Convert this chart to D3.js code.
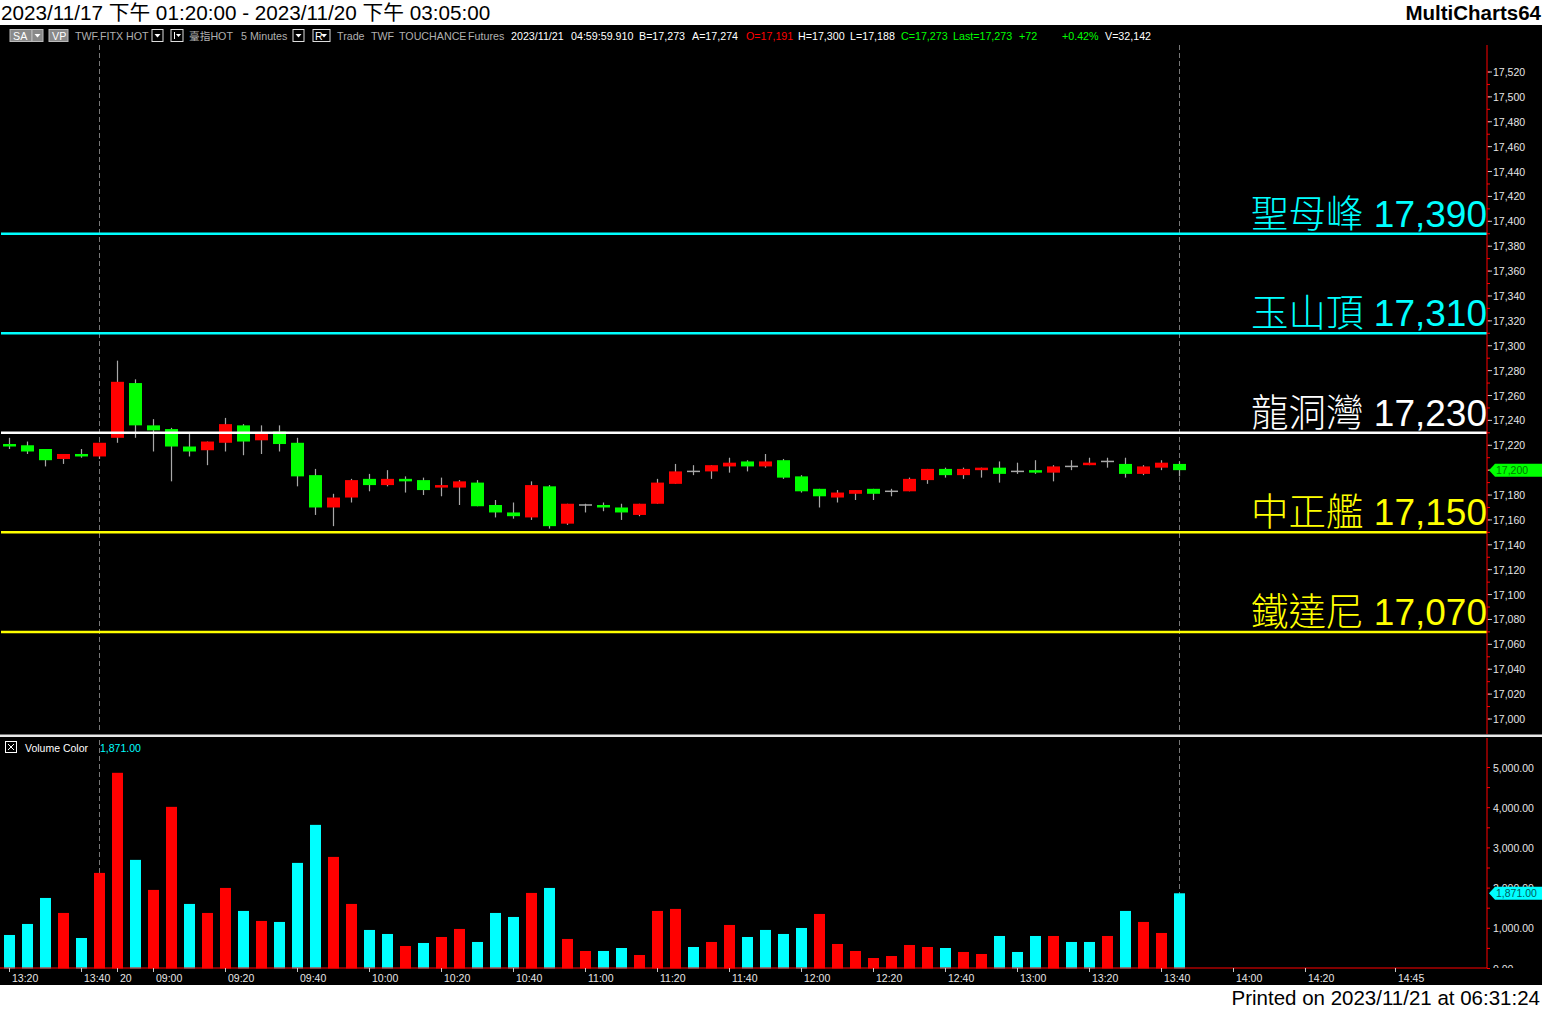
<!DOCTYPE html>
<html><head><meta charset="utf-8">
<script src="https://cdn.jsdelivr.net/npm/d3@7"></script>
<style>
html,body{margin:0;padding:0;background:#fff;}
svg{display:block;}
text{font-family:"Liberation Sans",Arial,"Noto Sans CJK TC",sans-serif;}
</style></head>
<body><div id="chart"></div>
<script>
// ---------------- data ----------------
const opens  = [17221,17220,17217,17209,17213,17211,17226,17270,17236,17233,17219,17216,17222,17236,17224,17231,17222,17196,17170,17178,17193,17188,17193,17192,17186,17186,17190,17172,17166,17162,17187,17157,17172,17172,17170,17164,17173,17189,17199,17199,17203,17207,17203,17208,17195,17185,17178,17181,17185,17183,17183,17192,17201,17196,17200,17202,17199,17200,17198,17203,17204,17207,17205,17197,17202,17205];
const highs  = [17226,17223,17217,17213,17217,17222,17288,17273,17241,17234,17229,17223,17242,17237,17236,17236,17226,17201,17181,17193,17197,17200,17195,17194,17194,17192,17192,17176,17174,17191,17188,17173,17173,17174,17173,17173,17193,17205,17204,17204,17210,17208,17213,17209,17196,17185,17184,17184,17185,17185,17194,17201,17202,17202,17202,17207,17206,17208,17204,17208,17210,17210,17210,17204,17208,17207];
const lows   = [17217,17213,17203,17205,17210,17209,17222,17226,17215,17191,17211,17204,17215,17212,17213,17215,17187,17164,17155,17174,17183,17187,17182,17180,17179,17172,17171,17162,17161,17160,17153,17156,17166,17167,17160,17163,17173,17189,17196,17193,17198,17199,17202,17193,17182,17170,17174,17176,17176,17179,17183,17189,17194,17193,17194,17190,17197,17197,17191,17200,17204,17202,17194,17196,17200,17195];
const closes = [17219,17215,17208,17213,17211,17222,17271,17236,17232,17219,17215,17223,17237,17223,17230,17221,17195,17170,17178,17192,17188,17193,17191,17184,17188,17191,17171,17166,17163,17188,17155,17173,17172,17170,17166,17173,17190,17199,17199,17204,17206,17203,17207,17194,17183,17179,17182,17184,17181,17183,17193,17201,17196,17201,17202,17197,17199,17198,17203,17203,17206,17207,17197,17203,17206,17200];
const volumes = [834,1108,1755,1382,759,2378,4868,2702,1955,4021,1606,1382,2004,1432,1183,1158,2627,3573,2776,1606,959,859,560,635,784,984,660,1382,1282,1880,2004,735,436,436,510,336,1432,1482,535,660,1083,784,959,859,1008,1357,610,436,261,311,585,535,510,411,361,809,411,809,809,660,660,809,1432,1158,884,1871];
const volUp = [0,0,0,1,0,1,1,0,1,1,0,1,1,0,1,0,0,0,1,1,0,0,1,0,1,1,0,0,0,1,0,1,1,0,0,1,1,1,0,1,1,0,0,0,0,1,1,1,1,1,1,1,0,1,1,0,0,0,1,0,0,1,0,1,1,0];
const timeTicks  = [0,4,6,8,12,16,20,24,28,32,36,40,44,48,52,56,60,64,68,72,77];
const timeLabels = ["13:20","13:40","20","09:00","09:20","09:40","10:00","10:20","10:40","11:00","11:20","11:40","12:00","12:20","12:40","13:00","13:20","13:40","14:00","14:20","14:45"];
const levelValues = [17390,17310,17230,17150,17070];
const levelNames  = ["聖母峰","玉山頂","龍洞灣","中正艦","鐵達尼"];
const levelColors = ["#00ffff","#00ffff","#ffffff","#ffff00","#ffff00"];
const priceTicks = d3.range(17000,17521,20);
const volTicks = [0,1000,2000,3000,4000,5000];
const dividerBars = [5,65];
const lastPrice = 17200, lastVolume = 1871;

// ---------------- layout ----------------
const W=1542,H=1009, axisX=1487;
const svg=d3.select("#chart").append("svg").attr("width",W).attr("height",H);
const fmt=d3.format(",");
const fmt2=d3.format(",.2f");

svg.append("rect").attr("width",W).attr("height",H).attr("fill","#fff");
svg.append("rect").attr("x",0).attr("y",25).attr("width",W).attr("height",960).attr("fill","#000");

// titles
svg.append("text").attr("x",1).attr("y",20).attr("font-size",20.7).attr("fill","#000")
  .text("2023/11/17 下午 01:20:00 - 2023/11/20 下午 03:05:00");
svg.append("text").attr("x",1541).attr("y",20).attr("text-anchor","end").attr("font-size",20.5).attr("font-weight","bold").attr("fill","#000")
  .text("MultiCharts64");
svg.append("text").attr("x",1540).attr("y",1005).attr("text-anchor","end").attr("font-size",20.5).attr("fill","#000")
  .text("Printed on 2023/11/21 at 06:31:24");

// scales
const x=d3.scaleLinear().domain([0,65]).range([9.5,1179.5]);
const y=d3.scaleLinear().domain([17000,17520]).range([719,72]);
const yv=d3.scaleLinear().domain([0,5000]).range([968.5,767.5]);

// header toolbar
const hdr=svg.append("g").attr("font-size",10.7);
function btn(x0,w,label){
  hdr.append("rect").attr("x",x0).attr("y",29.5).attr("width",w).attr("height",12).attr("fill","#8a8a8a").attr("stroke","#bbb").attr("stroke-width",1);
  hdr.append("text").attr("x",x0+3).attr("y",40).attr("fill","#fff").text(label);
}
btn(10,22,"SA");
hdr.append("rect").attr("x",32).attr("y",29.5).attr("width",11).attr("height",12).attr("fill","#8a8a8a").attr("stroke","#bbb");
hdr.append("path").attr("d","M34.5,34 L40.5,34 L37.5,37.5 Z").attr("fill","#fff");
btn(49,19,"VP");
function dd(x0,pre){
  hdr.append("rect").attr("x",x0).attr("y",29.5).attr("width",pre?17:11).attr("height",12).attr("fill","#000").attr("stroke","#ddd");
  const ax = pre? x0+11 : x0+5.5;
  if(pre) hdr.append("text").attr("x",x0+2).attr("y",40).attr("fill","#fff").text(pre);
  hdr.append("path").attr("d",`M${ax-3},34 L${ax+3},34 L${ax},37.5 Z`).attr("fill","#fff");
}
const hitems=[
  [75,"TWF.FITX HOT","#b0b0b0"],[189,"臺指HOT","#b0b0b0"],[241,"5 Minutes","#b0b0b0"],
  [337,"Trade","#b0b0b0"],[371,"TWF","#b0b0b0"],[399,"TOUCHANCE","#b0b0b0"],[468,"Futures","#b0b0b0"],
  [511,"2023/11/21","#fff"],[571,"04:59:59.910","#fff"],[639,"B=17,273","#fff"],[692,"A=17,274","#fff"],
  [746,"O=17,191","#ff0000"],[798,"H=17,300","#fff"],[850,"L=17,188","#fff"],[901,"C=17,273","#00ff00"],
  [953,"Last=17,273","#00ff00"],[1019,"+72","#00ff00"],[1062,"+0.42%","#00ff00"],[1105,"V=32,142","#fff"]];
hitems.forEach(d=>hdr.append("text").attr("x",d[0]).attr("y",40).attr("fill",d[2]).text(d[1]));
dd(152);
hdr.append("rect").attr("x",171).attr("y",29.5).attr("width",12).attr("height",12).attr("fill","#000").attr("stroke","#ddd");
hdr.append("line").attr("x1",174.5).attr("x2",174.5).attr("y1",32).attr("y2",39).attr("stroke","#fff");
hdr.append("path").attr("d","M176,34 L181,34 L178.5,37 Z").attr("fill","#fff");
dd(293); dd(313,"R");

// pane separator
svg.append("rect").attr("x",0).attr("y",734.5).attr("width",W).attr("height",2.5).attr("fill","#e8e8e8");

// dashed dividers
dividerBars.forEach(b=>{
  svg.append("line").attr("x1",x(b)).attr("x2",x(b)).attr("y1",45).attr("y2",733)
    .attr("stroke","#777").attr("stroke-dasharray","5,3");
  svg.append("line").attr("x1",x(b)).attr("x2",x(b)).attr("y1",740).attr("y2",967)
    .attr("stroke","#777").attr("stroke-dasharray","5,3");
});

// candles
const candles=d3.range(opens.length).map(i=>({i,o:opens[i],h:highs[i],l:lows[i],c:closes[i]}));
const cg=svg.append("g");
cg.selectAll("line.wick").data(candles).join("line")
  .attr("x1",d=>x(d.i)).attr("x2",d=>x(d.i))
  .attr("y1",d=>y(d.h)).attr("y2",d=>y(d.l))
  .attr("stroke","#a8a8a8").attr("stroke-width",1.2);
cg.selectAll("rect.body").data(candles.filter(d=>d.o!==d.c)).join("rect")
  .attr("x",d=>x(d.i)-6.5).attr("width",13)
  .attr("y",d=>y(Math.max(d.o,d.c)))
  .attr("height",d=>Math.max(2,Math.abs(y(d.o)-y(d.c))))
  .attr("fill",d=>d.c>d.o?"#ff0000":"#00ff00");
cg.selectAll("line.doji").data(candles.filter(d=>d.o===d.c)).join("line")
  .attr("x1",d=>x(d.i)-6.5).attr("x2",d=>x(d.i)+6.5)
  .attr("y1",d=>y(d.o)).attr("y2",d=>y(d.o))
  .attr("stroke","#a8a8a8").attr("stroke-width",1.5);

// level lines and labels
levelValues.forEach((v,k)=>{
  svg.append("line").attr("x1",1).attr("x2",axisX).attr("y1",y(v)).attr("y2",y(v))
    .attr("stroke",levelColors[k]).attr("stroke-width",2.5);
  const t=svg.append("text").attr("x",axisX).attr("y",y(v)-7).attr("text-anchor","end")
    .attr("font-size",37).attr("fill",levelColors[k]);
  t.append("tspan").attr("font-weight",300).attr("font-size",37.5).text(levelNames[k]);
  t.append("tspan").text("  "+fmt(v));
});

// price axis
svg.append("line").attr("x1",axisX).attr("x2",axisX).attr("y1",45).attr("y2",734).attr("stroke","#ff0000");
const minor=d3.range(17000,17530,10);
svg.selectAll("line.minorP").data(minor).join("line")
  .attr("x1",axisX).attr("x2",axisX+3).attr("y1",d=>y(d)).attr("y2",d=>y(d)).attr("stroke","#ff0000");
svg.selectAll("line.majP").data(priceTicks).join("line")
  .attr("x1",axisX+1).attr("x2",axisX+5).attr("y1",d=>y(d)).attr("y2",d=>y(d)).attr("stroke","#c8c8c8");
svg.selectAll("text.pt").data(priceTicks).join("text")
  .attr("x",1493).attr("y",d=>y(d)+4).attr("font-size",10.5).attr("fill","#e6e6e6").text(d=>fmt(d));

// last price marker
const lp=y(lastPrice);
svg.append("path").attr("d",`M${axisX+2},${lp} L${axisX+8},${lp-6.5} L1542,${lp-6.5} L1542,${lp+6.5} L${axisX+8},${lp+6.5} Z`).attr("fill","#00ff00");
svg.append("text").attr("x",1496).attr("y",lp+4).attr("font-size",10.5).attr("fill","#007a00").text(fmt(lastPrice));

// volume pane
const vg=svg.append("g");
vg.selectAll("rect.vol").data(volumes).join("rect")
  .attr("x",(d,i)=>x(i)-5.5).attr("width",11)
  .attr("y",d=>yv(d)).attr("height",d=>yv(0)-yv(d))
  .attr("fill",(d,i)=>volUp[i]?"#ff0000":"#00ffff");

svg.append("rect").attr("x",5.5).attr("y",741.5).attr("width",11).attr("height",11).attr("fill","none").attr("stroke","#fff");
svg.append("path").attr("d","M8,744 L14,750 M14,744 L8,750").attr("stroke","#fff").attr("stroke-width",1);
svg.append("text").attr("x",25).attr("y",752).attr("font-size",10.5).attr("fill","#fff").text("Volume Color");
svg.append("text").attr("x",100).attr("y",752).attr("font-size",10.5).attr("fill","#00ffff").text(fmt2(lastVolume));

// volume axis
svg.append("line").attr("x1",axisX).attr("x2",axisX).attr("y1",738).attr("y2",968).attr("stroke","#ff0000");
svg.append("line").attr("x1",0).attr("x2",axisX).attr("y1",968).attr("y2",968).attr("stroke","#ff0000").attr("stroke-width",1.2);
svg.selectAll("line.vmin").data(d3.range(0,5001,500)).join("line")
  .attr("x1",axisX).attr("x2",axisX+3).attr("y1",d=>yv(d)).attr("y2",d=>yv(d)).attr("stroke","#ff0000");
svg.append("clipPath").attr("id","vclip").append("rect").attr("x",1488).attr("y",740).attr("width",60).attr("height",228);
svg.append("g").attr("clip-path","url(#vclip)").selectAll("text").data(volTicks).join("text")
  .attr("x",1493).attr("y",d=>yv(d)+4).attr("font-size",10.5).attr("fill","#e6e6e6").text(d=>fmt2(d));
const lv=yv(lastVolume);
svg.append("path").attr("d",`M${axisX+2},${lv} L${axisX+8},${lv-6.5} L1542,${lv-6.5} L1542,${lv+6.5} L${axisX+8},${lv+6.5} Z`).attr("fill","#00ffff");
svg.append("text").attr("x",1496).attr("y",lv+4).attr("font-size",10.5).attr("fill","#006060").text(fmt2(lastVolume));

// time axis
svg.selectAll("line.tt").data(timeTicks).join("line")
  .attr("x1",d=>x(d)).attr("x2",d=>x(d)).attr("y1",968).attr("y2",972).attr("stroke","#c8c8c8");
svg.selectAll("text.tl").data(timeTicks).join("text")
  .attr("x",d=>x(d)+2.5).attr("y",982)
  .attr("font-size",10.5).attr("fill","#e6e6e6").text((d,i)=>timeLabels[i]);
</script></body></html>
